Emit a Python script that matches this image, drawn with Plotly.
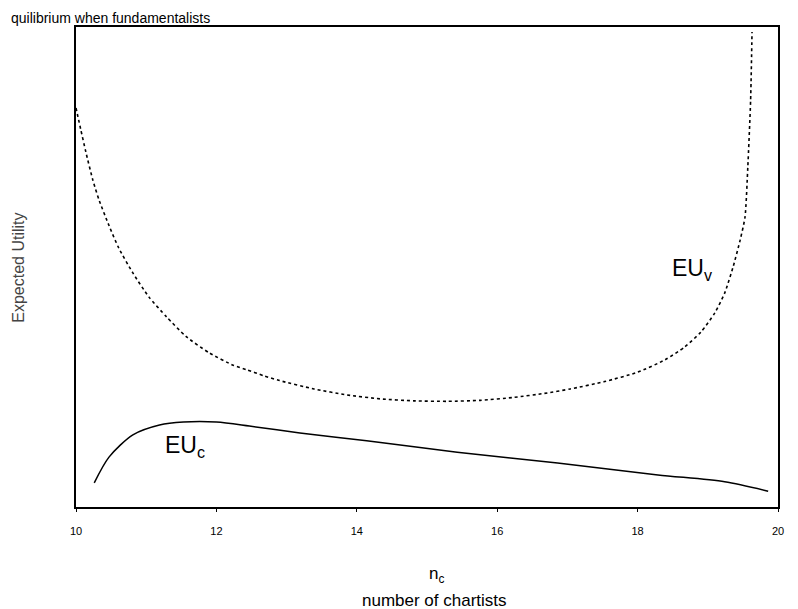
import plotly.graph_objects as go

# Data (y in arbitrary utility units)
n_v = [10.00, 10.07, 10.14, 10.24, 10.33, 10.47, 10.61, 10.81, 11.04, 11.29, 11.57,
       11.90, 12.24, 12.43, 12.67, 12.90, 13.39, 13.86, 14.33, 14.81, 15.29, 15.76,
       16.24, 16.67, 17.04, 17.53, 18.00, 18.39, 18.67, 18.90, 19.10, 19.24, 19.36,
       19.46, 19.53, 19.57, 19.61, 19.63]
eu_v = [80.8, 76.3, 71.9, 66.2, 62.1, 57.0, 52.4, 47.4, 42.5, 38.5, 34.5,
        31.2, 28.7, 27.8, 26.6, 25.6, 23.9, 22.7, 21.9, 21.5, 21.4, 21.6,
        22.2, 23.0, 23.9, 25.4, 27.3, 29.8, 32.4, 35.4, 39.3, 43.3, 48.6,
        54.0, 58.7, 68.8, 82.4, 96.2]

n_c = [10.26, 10.47, 10.81, 11.19, 11.53, 12.00, 12.47, 13.19, 14.14, 15.43,
       16.86, 18.29, 19.24, 19.86]
eu_c = [4.9, 10.1, 14.6, 16.6, 17.2, 17.2, 16.4, 15.0, 13.4, 11.1,
        8.9, 6.5, 5.1, 3.2]

tick_vals = [10, 12, 14, 16, 18, 20]
tick_text = ["10", "12", "14", "16", "18", "20"]

FONT = "Liberation Sans, Arial, Helvetica, sans-serif"

fig = go.Figure()
fig.add_trace(go.Scatter(x=n_v, y=eu_v, mode="lines", line_shape="spline",
                         line=dict(color="black", width=1.6, dash="dot", smoothing=0.6),
                         showlegend=False, hoverinfo="skip"))
fig.add_trace(go.Scatter(x=n_c, y=eu_c, mode="lines", line_shape="spline",
                         line=dict(color="black", width=1.5, smoothing=0.8),
                         showlegend=False, hoverinfo="skip"))

fig.add_annotation(x=18.78, y=48, xref="x", yref="y", text="EU<sub>v</sub>",
                   xanchor="center", yanchor="middle",
                   showarrow=False, font=dict(family=FONT, size=23, color="black"))
fig.add_annotation(x=11.55, y=12.3, xref="x", yref="y", text="EU<sub>c</sub>",
                   xanchor="center", yanchor="middle",
                   showarrow=False, font=dict(family=FONT, size=23, color="black"))

# x-axis titles
fig.add_annotation(x=15.14, y=-0.142, xref="x", yref="paper", text="n<sub>c</sub>",
                   xanchor="center", yanchor="middle",
                   showarrow=False, font=dict(family=FONT, size=17, color="black"))
fig.add_annotation(x=15.10, y=-0.194, xref="x", yref="paper", text="number of chartists",
                   xanchor="center", yanchor="middle",
                   showarrow=False, font=dict(family=FONT, size=17, color="black"))
# y-axis title
fig.add_annotation(x=-0.0815, y=0.498, xref="paper", yref="paper", text="Expected Utility",
                   xanchor="center", yanchor="middle",
                   textangle=-90, showarrow=False,
                   font=dict(family=FONT, size=16, color="#444"))
# heading at the top (cropped in the source scan)
fig.add_annotation(x=-0.0954, y=1.0396, xref="paper", yref="paper", xanchor="left",
                   yanchor="top",
                   text="quilibrium when fundamentalists", showarrow=False,
                   font=dict(family=FONT, size=14, color="black"))

fig.update_xaxes(range=[10, 20], tickvals=tick_vals, ticktext=tick_text,
                 showline=True, linecolor="black", linewidth=2, mirror=True,
                 ticks="outside", ticklen=3, tickwidth=1, tickcolor="black",
                 ticklabelstandoff=10,
                 tickfont=dict(family=FONT, size=11, color="black"),
                 showgrid=False, zeroline=False)
fig.update_yaxes(range=[0, 97.2], showticklabels=False, ticks="",
                 showline=True, linecolor="black", linewidth=2, mirror=True,
                 showgrid=False, zeroline=False)

fig.update_layout(width=790, height=601,
                  margin=dict(l=68, r=20, t=19, b=102, autoexpand=False),
                  plot_bgcolor="white", paper_bgcolor="white",
                  font=dict(family=FONT))

fig.write_html("out.html")
